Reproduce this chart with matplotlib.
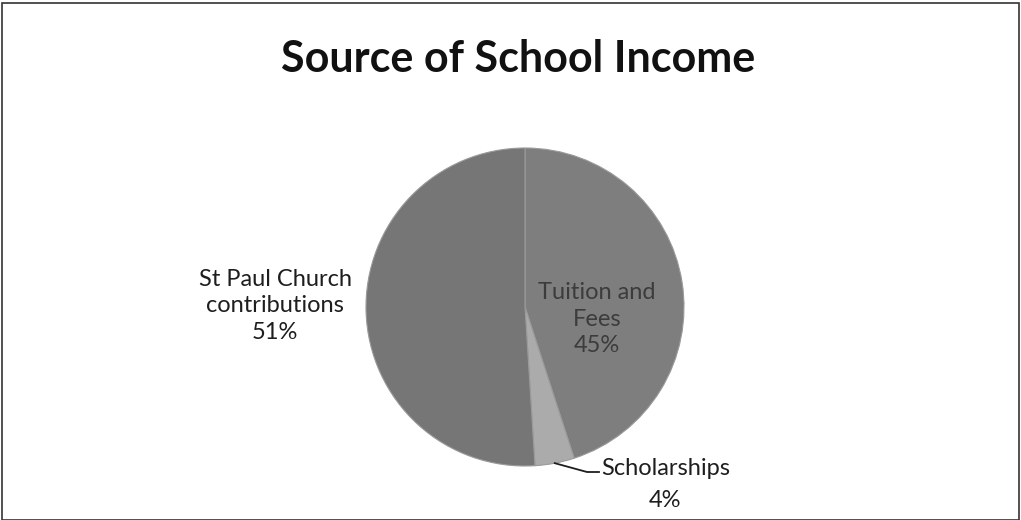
import numpy as np
import matplotlib.pyplot as plt
from matplotlib.patches import Rectangle

# Data
labels = ['Tuition and\nFees', 'Scholarships', 'St Paul Church\ncontributions']
shares = [45, 4, 51]
colors = ['#7e7e7e', '#ababab', '#767676']

plt.rcParams['font.family'] = ['Lato', 'DejaVu Sans']

fig = plt.figure(figsize=(10.21, 5.2), dpi=100)
ax = fig.add_axes([0, 0, 1, 1])

# frame round the chart area
fig.patches.append(Rectangle((0.002, 0.0), 0.996, 0.995, transform=fig.transFigure,
                             fill=False, edgecolor='#333333', linewidth=1.2))

# pie, drawn in pixel-like data units (y measured up from the bottom)
cx, cy, r = 525, 213, 159
wedges, _ = ax.pie(shares, colors=colors, startangle=90, counterclock=False,
                   center=(cx, cy), radius=r, frame=True,
                   wedgeprops=dict(linewidth=0.8, edgecolor='#9a9a9a'))
ax.set_xlim(0, 1021)
ax.set_ylim(0, 520)
ax.set_aspect('equal')
ax.axis('off')

pct = ['%d%%' % s for s in shares]
fs = 17

# Tuition label inside its slice
ax.text(cx + 72, cy - 12, labels[0] + '\n' + pct[0], ha='center', va='center',
        fontsize=fs, color='#3c3c3c', linespacing=1.35)

# St Paul label outside on the left
ax.text(275, cy + 1, labels[2] + '\n' + pct[2], ha='center', va='center',
        fontsize=fs, color='#1e1e1e', linespacing=1.35)

# Scholarships label with leader line
w = wedges[1]
mid = np.deg2rad((w.theta1 + w.theta2) / 2)
px, py = cx + r * np.cos(mid), cy + r * np.sin(mid)
ax.plot([px, 587, 599], [py, 48, 48], color='#1e1e1e', linewidth=1.3)
ax.text(601, 45, labels[1], ha='left', va='baseline', fontsize=fs, color='#1e1e1e')
ax.text(665, 13, pct[1], ha='center', va='baseline', fontsize=fs, color='#1e1e1e')

# title
fig.text(0.507, 1 - 72 / 520, 'Source of School Income', ha='center', va='baseline',
         fontsize=31, fontweight='bold', color='#111111')

fig.savefig('out.png', dpi=100)
